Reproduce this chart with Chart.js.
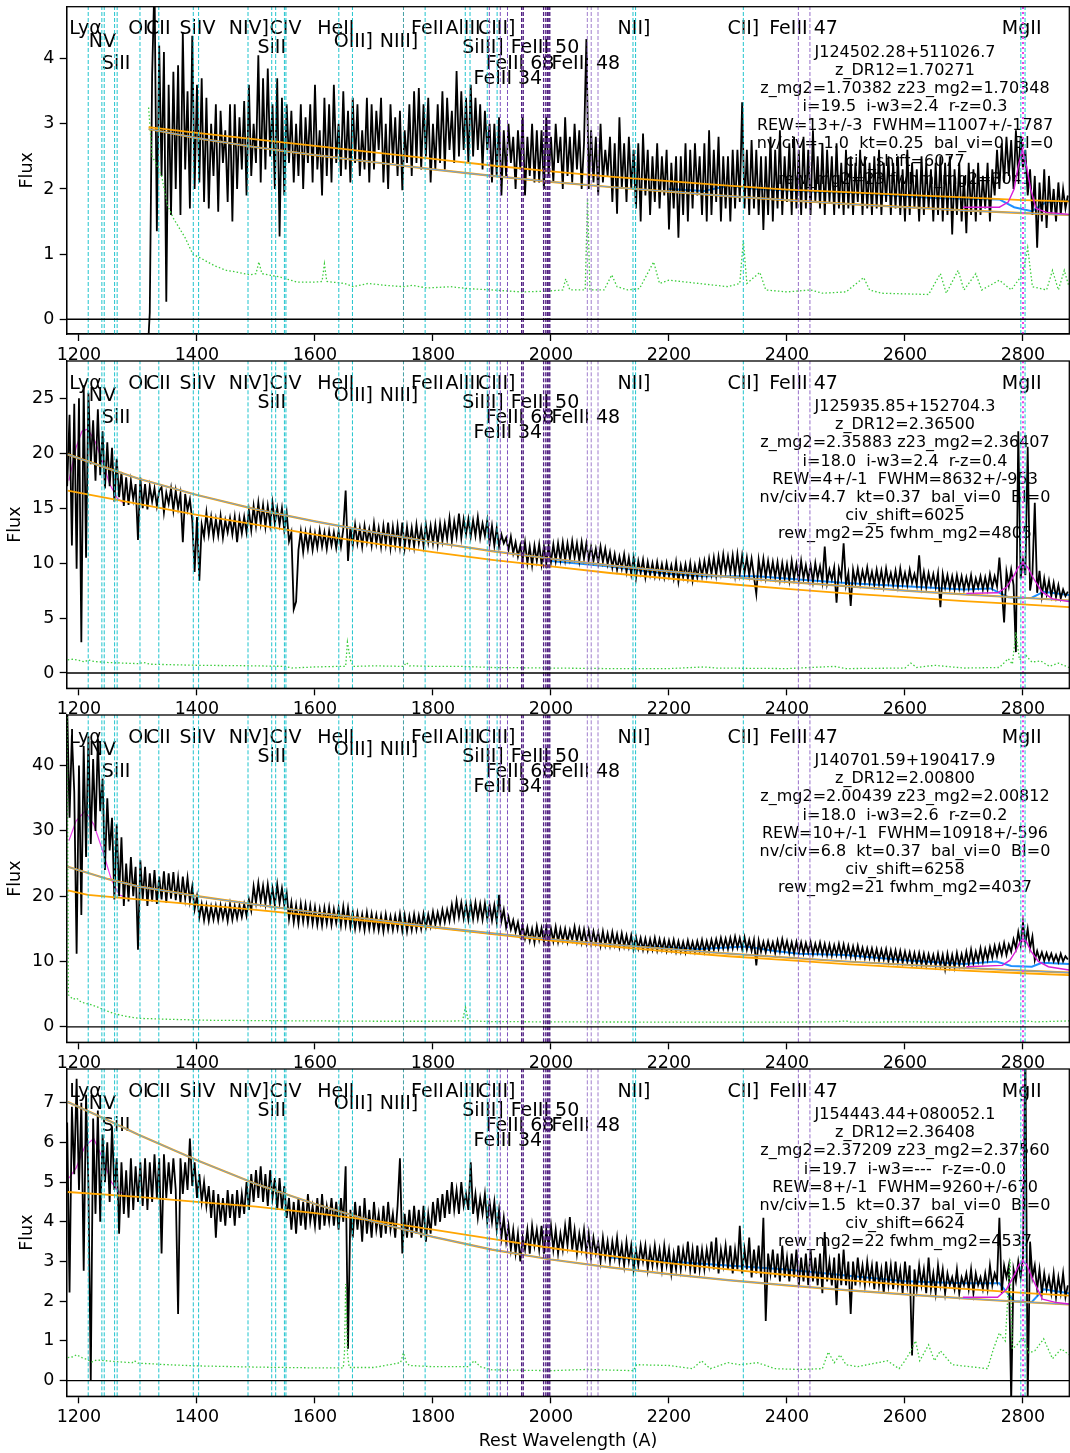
<!DOCTYPE html>
<html>
<head>
<meta charset="utf-8">
<script src="https://cdn.jsdelivr.net/npm/chart.js@4/dist/chart.umd.min.js"></script>
<style>
  html, body { margin: 0; padding: 0; background: #fff; }
  #wrap { position: relative; width: 1070px; height: 1453px; overflow: hidden; background: #fff; }
  #wrap canvas { position: absolute; left: 0; }
</style>
</head>
<body>
<div id="wrap"></div>
<script>
// rest-frame wavelength grid (A) shared by the four spectra
const wave = [
  1180,1184,1188,1192,1196,1200,1204,1208,1212,1216,
  1220,1224,1228,1232,1236,1240,1244,1248,1252,1256,
  1260,1264,1268,1272,1276,1280,1284,1288,1292,1296,
  1300,1304,1308,1312,1316,1320,1324,1328,1332,1336,
  1340,1344,1348,1352,1356,1360,1364,1368,1372,1376,
  1380,1384,1388,1392,1396,1400,1404,1408,1412,1416,
  1420,1424,1428,1432,1436,1440,1444,1448,1452,1456,
  1460,1464,1468,1472,1476,1480,1484,1488,1492,1496,
  1500,1504,1508,1512,1516,1520,1524,1528,1532,1536,
  1540,1544,1548,1552,1556,1560,1564,1568,1572,1576,
  1580,1584,1588,1592,1596,1600,1604,1608,1612,1616,
  1620,1624,1628,1632,1636,1640,1644,1648,1652,1656,
  1660,1664,1668,1672,1676,1680,1684,1688,1692,1696,
  1700,1704,1708,1712,1716,1720,1724,1728,1732,1736,
  1740,1744,1748,1752,1756,1760,1764,1768,1772,1776,
  1780,1784,1788,1792,1796,1800,1804,1808,1812,1816,
  1820,1824,1828,1832,1836,1840,1844,1848,1852,1856,
  1860,1864,1868,1872,1876,1880,1884,1888,1892,1896,
  1900,1904,1908,1912,1916,1920,1924,1928,1932,1936,
  1940,1944,1948,1952,1956,1960,1964,1968,1972,1976,
  1980,1984,1988,1992,1996,2000,2004,2008,2012,2016,
  2020,2024,2028,2032,2036,2040,2044,2048,2052,2056,
  2060,2064,2068,2072,2076,2080,2084,2088,2092,2096,
  2100,2104,2108,2112,2116,2120,2124,2128,2132,2136,
  2140,2144,2148,2152,2156,2160,2164,2168,2172,2176,
  2180,2184,2188,2192,2196,2200,2204,2208,2212,2216,
  2220,2224,2228,2232,2236,2240,2244,2248,2252,2256,
  2260,2264,2268,2272,2276,2280,2284,2288,2292,2296,
  2300,2304,2308,2312,2316,2320,2324,2328,2332,2336,
  2340,2344,2348,2352,2356,2360,2364,2368,2372,2376,
  2380,2384,2388,2392,2396,2400,2404,2408,2412,2416,
  2420,2424,2428,2432,2436,2440,2444,2448,2452,2456,
  2460,2464,2468,2472,2476,2480,2484,2488,2492,2496,
  2500,2504,2508,2512,2516,2520,2524,2528,2532,2536,
  2540,2544,2548,2552,2556,2560,2564,2568,2572,2576,
  2580,2584,2588,2592,2596,2600,2604,2608,2612,2616,
  2620,2624,2628,2632,2636,2640,2644,2648,2652,2656,
  2660,2664,2668,2672,2676,2680,2684,2688,2692,2696,
  2700,2704,2708,2712,2716,2720,2724,2728,2732,2736,
  2740,2744,2748,2752,2756,2760,2764,2768,2772,2776,
  2780,2784,2788,2792,2796,2800,2804,2808,2812,2816,
  2820,2824,2828,2832,2836,2840,2844,2848,2852,2856,
  2860,2864,2868,2872,2876
];

const xTicks = [1200, 1400, 1600, 1800, 2000, 2200, 2400, 2600, 2800];

// ---- J124502.28+511026.7 ----
const p1Flux = [
  null,null,null,null,null,null,null,null,null,null,
  null,null,null,null,null,null,null,null,null,null,
  null,null,null,null,null,null,null,null,null,null,
  null,null,null,null,-0.6,0.1,3.75,5.2,1.35,4.2,
  2.2,4.1,0.27,3.6,1.6,3.8,2.0,3.9,1.6,4.4,
  2.3,3.5,1.7,4.35,2.0,3.6,2.1,3.7,1.8,3.4,
  1.7,3.0,2.2,3.3,1.65,3.2,2.4,2.9,1.8,3.3,
  1.5,3.3,2.0,3.1,2.3,3.35,1.9,3.6,2.2,3.0,
  2.4,4.05,2.1,3.7,2.3,3.85,2.5,3.3,2.0,3.7,
  1.27,3.4,1.9,3.3,2.4,3.2,2.1,3.0,2.2,3.3,
  2.0,3.1,2.4,3.3,2.1,3.6,2.3,2.9,1.9,3.4,
  2.2,3.3,2.1,3.6,2.4,3.0,2.2,3.5,2.3,3.2,
  2.1,3.4,2.4,3.3,2.2,2.9,2.3,3.4,2.1,3.3,
  2.3,3.2,2.6,3.4,2.1,3.0,2.0,3.3,2.4,3.1,
  2.2,3.2,1.98,2.9,2.4,3.3,2.2,3.5,2.4,3.55,
  2.3,3.3,2.5,3.4,2.1,3.0,2.3,3.3,2.4,3.5,
  2.3,3.4,2.6,3.2,2.4,3.81,2.5,3.5,2.6,3.4,
  2.4,3.6,2.5,3.4,2.6,3.3,2.3,3.2,2.6,3.0,
  2.1,3.0,2.2,3.1,1.9,2.9,2.2,3.0,2.4,2.8,
  2.0,2.9,2.3,3.1,1.9,2.8,2.2,3.0,2.1,2.9,
  2.1,2.9,2.0,3.1,2.2,2.8,2.1,3.0,2.4,2.8,
  2.0,3.1,2.2,2.8,2.1,3.0,2.3,2.9,2.0,2.7,
  4.3,2.0,2.9,2.1,2.8,1.9,3.0,2.1,2.6,2.2,
  2.8,1.8,2.7,1.62,3.1,2.0,2.7,1.8,2.8,2.0,
  2.6,1.7,2.7,1.5,2.85,1.9,2.6,1.6,2.5,1.8,
  2.7,1.7,2.5,1.9,2.6,1.38,2.4,1.7,2.5,1.25,
  2.5,1.6,2.7,1.5,2.6,1.7,2.7,1.9,2.5,1.6,
  2.7,1.5,2.9,1.6,2.6,1.8,2.8,1.5,2.5,1.7,
  2.5,1.5,2.6,1.7,2.6,1.8,3.33,1.7,2.6,1.6,
  2.75,1.7,2.6,1.6,2.5,1.37,2.5,1.6,2.8,1.5,
  2.6,1.7,2.9,1.6,2.5,1.8,2.7,1.6,2.8,1.7,
  2.6,1.6,2.8,1.7,2.6,1.6,2.9,1.8,2.5,1.7,
  2.7,1.6,2.6,1.8,2.5,1.6,2.7,1.7,2.4,1.6,
  2.6,1.7,2.5,1.6,2.4,1.8,2.6,1.6,2.5,1.7,
  2.4,1.6,2.5,1.7,2.6,1.6,2.4,1.8,2.5,1.6,
  2.4,1.7,2.5,1.6,2.3,1.5,2.6,1.6,2.4,1.7,
  2.3,1.5,2.5,1.6,2.4,1.7,2.3,1.5,2.4,1.6,
  2.5,1.5,2.4,1.6,2.5,1.3,2.3,1.6,2.4,1.5,
  2.2,1.32,2.4,1.6,2.3,1.5,2.4,1.6,2.2,1.7,
  2.4,1.5,2.3,1.9,2.6,2.0,2.7,2.1,2.8,2.2,
  2.75,2.0,2.9,2.2,2.8,2.3,2.6,1.9,2.3,1.6,
  2.2,1.1,2.1,1.5,2.3,1.4,2.2,1.6,2.0,1.5,
  2.1,1.6,2.0,1.7,1.9
];
const p1Err = [[1318,3.25],[1324,2.5],[1330,2.4],[1340,2.2],[1350,1.75],[1360,1.55],[1370,1.4],[1380,1.25],[1393,1.0],[1410,0.92],[1430,0.82],[1450,0.75],[1470,0.72],[1490,0.68],[1500,0.7],[1505,0.88],[1510,0.7],[1540,0.65],[1570,0.57],[1600,0.57],[1612,0.58],[1616,0.85],[1620,0.58],[1650,0.55],[1665,0.5],[1690,0.55],[1720,0.52],[1750,0.5],[1765,0.52],[1790,0.48],[1830,0.5],[1860,0.47],[1900,0.45],[1950,0.42],[1990,0.43],[2020,0.45],[2025,0.62],[2032,0.45],[2058,0.45],[2062,1.86],[2066,0.45],[2090,0.45],[2103,0.68],[2112,0.5],[2130,0.45],[2150,0.47],[2174,0.88],[2184,0.55],[2200,0.6],[2250,0.55],[2300,0.5],[2320,0.55],[2326,1.21],[2332,0.55],[2354,0.72],[2364,0.45],[2400,0.42],[2440,0.45],[2460,0.4],[2500,0.42],[2530,0.64],[2540,0.45],[2560,0.4],[2640,0.38],[2660,0.7],[2670,0.4],[2690,0.75],[2700,0.45],[2720,0.7],[2730,0.45],[2760,0.6],[2780,0.45],[2800,0.7],[2808,1.1],[2816,0.5],[2840,0.45],[2850,0.75],[2860,0.45],[2870,0.75],[2878,0.5]];
const p1Steep = [[1318,2.92],[1400,2.78],[1500,2.64],[1600,2.52],[1700,2.41],[1800,2.30],[1900,2.20],[2000,2.11],[2100,2.03],[2200,1.96],[2300,1.89],[2400,1.83],[2500,1.77],[2600,1.72],[2700,1.67],[2800,1.63],[2878,1.60]];
const p1Flat = [[1318,2.95],[1400,2.86],[1500,2.76],[1600,2.66],[1700,2.56],[1800,2.46],[1900,2.36],[2000,2.27],[2100,2.19],[2200,2.12],[2300,2.05],[2400,1.99],[2500,1.95],[2600,1.91],[2700,1.87],[2800,1.83],[2878,1.81]];
const p1Model = [[2200,2.0],[2260,1.97],[2300,2.05],[2350,2.0],[2420,1.97],[2530,1.93],[2650,1.86],[2760,1.84],[2785,1.72],[2815,1.66],[2840,1.8],[2878,1.82]];
const p1Mg = [[2698,1.72],[2760,1.72],[2775,1.8],[2785,2.0],[2792,2.35],[2799,2.61],[2806,2.35],[2813,2.0],[2822,1.7],[2840,1.64],[2878,1.61]];
const p1Info = ['J124502.28+511026.7', 'z_DR12=1.70271', 'z_mg2=1.70382 z23_mg2=1.70348', 'i=19.5  i-w3=2.4  r-z=0.3', 'REW=13+/-3  FWHM=11007+/-1787', 'nv/civ=-1.0  kt=0.25  bal_vi=0  BI=0', 'civ_shift=6077', 'rew_mg2=23 fwhm_mg2=3041'];

// ---- J125935.85+152704.3 ----
const p2Flux = [
  17,23.5,11.6,24.5,9.5,25,2.8,26.2,10.5,25.5,
  19,23,17.5,24,18,22,16.8,21,17,20.5,
  15.6,19.5,16,18.3,15.2,17.8,15.3,17.5,15.8,17.2,
  12.1,17.8,15.0,17.2,14.9,17.0,15.6,16.8,15.2,16.6,
  16.9,14.6,16.4,15.4,16.8,14.8,16.6,15.0,16.3,11.9,
  16.3,14.8,15.8,13.9,9.2,14.2,8.4,13.5,12.4,14.6,
  12.6,14.2,12.4,14.0,12.5,14.3,12.3,13.9,12.8,14.1,
  12.6,14.2,11.9,14.1,12.7,14.2,12.8,14.8,13.0,15.2,
  13.4,15.5,13.6,15.3,13.3,15.2,13.5,15.5,13.6,15.0,
  13.5,15.0,13.0,14.6,12.0,12.8,5.8,6.5,11.2,12.9,
  11.0,12.8,11.3,12.9,11.2,12.7,11.4,13.0,11.5,12.8,
  11.3,12.9,11.6,12.8,11.4,12.9,11.5,13.1,16.6,10.2,
  13.3,11.6,13.5,11.8,13.2,11.5,13.4,11.9,13.1,11.6,
  13.6,11.8,13.2,11.5,13.4,11.7,13.7,11.4,13.3,11.6,
  13.4,11.5,13.7,11.4,13.3,11.6,13.2,11.5,13.5,11.8,
  13.2,11.6,13.5,11.9,13.4,11.8,13.5,11.7,13.6,12.0,
  13.6,12.2,14.1,12.0,13.8,12.4,14.5,12.3,14.0,12.6,
  14.0,12.4,13.9,12.5,14.2,12.3,13.6,12.5,13.9,11.8,
  13.4,11.6,13.2,11.5,12.6,11.8,12.3,11.2,12.4,10.9,
  11.9,10.6,11.6,10.3,11.9,10.0,11.5,9.8,11.6,10.2,
  11.7,9.9,11.5,10.0,11.6,10.1,11.7,10.2,11.8,10.3,
  11.9,10.3,11.8,10.4,12.0,10.5,11.8,10.2,11.9,10.4,
  11.8,10.3,11.5,10.2,11.3,10.0,11.5,10.1,11.3,9.9,
  11.0,9.6,10.8,9.4,10.6,9.5,10.8,9.2,10.5,9.0,
  10.5,8.6,10.2,9.1,10.3,8.7,10.1,8.9,10.0,8.8,
  10.1,8.8,9.9,8.7,10.0,8.8,9.8,8.6,10.1,8.3,
  9.8,8.7,9.9,8.6,10.0,8.4,9.8,8.7,10.1,8.8,
  10.2,8.9,10.4,9.0,10.5,8.9,10.6,9.1,10.8,9.2,
  10.6,9.1,10.7,8.9,10.8,9.0,10.7,9.1,10.5,8.9,
  10.4,8.8,7.2,10.3,8.8,10.4,8.7,10.2,8.8,10.1,
  8.7,10.1,8.5,10.0,8.6,9.9,8.4,10.2,8.6,9.9,
  8.4,10.2,8.6,9.8,8.5,9.8,8.3,10.0,8.6,9.7,
  8.3,11.5,8.2,9.4,8.5,9.6,6.4,9.5,8.6,11.8,
  8.0,9.1,6.1,9.4,8.2,9.5,8.1,9.3,8.3,9.6,
  8.2,9.2,8.0,9.4,8.1,9.3,7.9,9.5,8.2,9.1,
  8.0,9.3,7.9,9.5,8.1,9.1,8.0,9.4,8.2,9.0,
  8.0,10.7,7.9,9.2,7.8,9.1,8.0,9.0,7.8,9.1,
  6.0,9.0,7.8,8.9,7.7,8.8,7.6,8.9,7.7,8.8,
  7.6,8.7,7.7,8.9,7.5,8.6,7.8,8.8,7.6,8.7,
  7.6,9.0,7.8,8.8,7.9,10.5,7.7,4.6,9.2,7.9,
  9.4,8.0,1.9,22.0,8.6,10.3,8.9,20.6,7.5,9.0,
  15.5,7.3,9.3,7.0,8.6,7.2,8.4,7.0,8.2,6.9,
  8.0,6.8,7.6,7.0,7.4
];
const p2Err = [[1181,1.2],[1190,1.25],[1200,1.15],[1210,1.0],[1215,1.2],[1225,1.05],[1250,0.95],[1300,0.85],[1310,0.95],[1320,0.8],[1400,0.7],[1500,0.65],[1550,0.6],[1560,0.45],[1600,0.55],[1640,0.6],[1652,0.6],[1655,2.8],[1660,1.2],[1665,0.6],[1700,0.65],[1750,0.6],[1755,0.95],[1760,0.65],[1800,0.6],[1850,0.6],[1900,0.5],[2000,0.45],[2100,0.4],[2200,0.4],[2260,0.55],[2280,0.45],[2400,0.4],[2480,0.6],[2500,0.4],[2600,0.45],[2610,0.9],[2620,0.5],[2650,0.7],[2700,0.45],[2760,0.5],[2775,1.3],[2782,0.8],[2788,3.7],[2794,1.2],[2805,1.6],[2815,1.0],[2830,1.1],[2845,0.6],[2860,0.9],[2878,0.5]];
const p2Steep = [[1181,19.9],[1250,18.6],[1300,17.7],[1400,16.2],[1500,14.9],[1600,13.8],[1700,12.8],[1800,11.9],[1900,11.1],[2000,10.4],[2100,9.8],[2200,9.25],[2300,8.75],[2400,8.3],[2500,7.9],[2600,7.5],[2700,7.15],[2800,6.85],[2878,6.6]];
const p2Flat = [[1181,16.6],[1300,15.4],[1400,14.4],[1500,13.5],[1600,12.6],[1700,11.8],[1800,11.0],[1900,10.3],[2000,9.7],[2100,9.1],[2200,8.6],[2300,8.1],[2400,7.65],[2500,7.25],[2600,6.9],[2700,6.55],[2800,6.25],[2878,6.0]];
const p2Model = [[2000,10.2],[2100,9.7],[2200,9.0],[2260,8.8],[2350,8.8],[2420,8.5],[2500,8.2],[2600,7.9],[2700,7.6],[2745,7.7],[2775,6.9],[2795,6.8],[2815,6.85],[2835,7.4],[2878,7.1]];
const p2Mg = [[2704,7.25],[2757,7.3],[2772,7.8],[2784,8.8],[2792,9.6],[2800,10.0],[2808,9.6],[2818,8.6],[2832,7.4],[2850,6.75],[2878,6.5]];
const p2Lya = [[1183,17.5],[1195,20.5],[1205,22.0],[1215,22.2],[1228,21.0],[1240,19.2],[1252,17.2],[1265,15.9],[1275,15.5]];
const p2Info = ['J125935.85+152704.3', 'z_DR12=2.36500', 'z_mg2=2.35883 z23_mg2=2.36407', 'i=18.0  i-w3=2.4  r-z=0.4', 'REW=4+/-1  FWHM=8632+/-953', 'nv/civ=4.7  kt=0.37  bal_vi=0  BI=0', 'civ_shift=6025', 'rew_mg2=25 fwhm_mg2=4805'];

// ---- J140701.59+190417.9 ----
const p3Flux = [
  49,32,44.7,36,11.2,40,17.1,43,26,44.5,
  28,41,30,44,33,38,24,35,27,32,
  19.5,31,20,29,18.5,25,19.2,26,20.0,24.5,
  11.8,25.5,19.5,24.5,18.5,23.5,19.2,24.0,18.8,23.0,
  19.5,23.8,19.0,23.5,19.6,23.7,19.4,22.8,19.0,23.0,
  19.6,22.8,19.2,21.5,18.0,20.0,16.8,18.8,16.3,18.6,
  16.2,18.4,16.4,18.5,16.3,18.6,16.6,18.4,16.2,18.8,
  16.4,18.5,16.6,18.6,16.8,18.8,17.0,19.5,17.8,21.5,
  19.0,22.0,19.2,21.6,18.8,21.8,19.0,21.2,18.6,21.8,
  18.9,21.2,18.6,20.5,16.5,19.0,16.0,18.6,15.8,18.8,
  16.1,18.7,15.9,18.5,15.8,18.3,15.6,18.0,15.5,18.2,
  15.8,18.3,15.6,18.0,15.9,18.2,15.5,18.4,15.6,18.2,
  15.3,17.6,15.0,17.4,15.1,17.2,14.8,17.5,15.0,17.3,
  14.9,17.1,14.8,17.0,14.6,17.2,14.9,16.9,14.8,17.0,
  15.0,17.3,14.7,17.1,14.6,16.9,14.8,17.2,14.9,17.0,
  15.0,17.3,15.2,17.2,15.4,17.6,15.6,17.5,15.8,17.9,
  16.0,17.9,16.2,18.7,16.5,19.3,16.8,19.0,16.6,18.8,
  16.4,18.9,16.5,19.0,16.6,18.8,16.4,18.9,16.5,18.6,
  16.3,18.6,16.1,20.2,16.2,17.9,15.2,16.8,14.9,16.3,
  14.5,16.0,13.9,15.5,13.5,15.2,13.2,15.0,12.9,15.4,
  13.3,15.1,13.0,15.2,12.9,15.0,13.1,15.3,13.0,15.0,
  13.2,15.0,13.0,14.8,13.3,15.3,13.1,15.0,12.9,14.9,
  12.8,14.8,12.7,14.6,12.8,14.5,12.4,14.6,12.5,14.3,
  12.4,14.5,12.5,14.2,12.2,14.3,12.3,14.0,12.2,14.0,
  11.9,13.8,12.0,13.6,11.8,13.5,11.7,13.4,11.8,13.6,
  11.7,13.4,11.8,13.3,11.6,13.2,11.7,13.3,11.5,13.1,
  11.5,13.0,11.4,13.2,11.6,13.0,11.5,13.1,11.6,13.3,
  11.5,13.1,11.6,13.3,11.8,13.4,11.9,13.6,12.0,13.5,
  11.9,13.6,12.0,13.8,12.1,13.6,11.9,13.7,11.8,13.3,
  11.6,13.3,9.4,13.2,11.5,13.0,11.4,13.1,11.6,12.9,
  11.3,13.2,11.5,13.4,11.6,13.1,11.3,12.9,11.2,13.0,
  11.3,12.9,11.2,12.8,11.4,13.0,11.1,12.7,11.3,12.9,
  11.1,12.7,11.0,12.6,10.9,12.5,11.0,12.7,10.9,12.6,
  10.8,12.4,10.7,12.3,10.6,12.4,10.7,12.1,10.5,12.0,
  10.5,12.0,10.4,11.9,10.2,11.8,10.3,11.9,10.0,11.7,
  10.0,11.7,9.9,11.6,9.8,11.5,9.9,11.4,9.6,11.3,
  9.6,11.3,9.5,11.2,9.4,11.1,9.6,11.0,9.3,11.2,
  9.3,11.0,8.8,11.2,9.2,11.0,9.1,11.3,9.4,11.1,
  9.4,11.5,9.6,11.8,9.7,11.5,10.0,12.0,10.0,11.9,
  10.3,12.2,10.6,12.4,10.8,12.5,11.0,12.8,11.0,12.6,
  11.5,13.4,12.0,14.5,12.5,16.0,12.8,15.0,12.0,13.8,
  10.2,11.6,10.3,11.4,10.1,11.3,10.2,11.2,10.0,11.0,
  9.9,11.2,10.0,10.8,10.3
];
const p3Err = [[1180,48],[1182,4.9],[1190,4.2],[1196,4.4],[1202,3.9],[1210,3.6],[1220,3.4],[1232,3.0],[1245,2.5],[1260,2.0],[1280,1.6],[1300,1.3],[1350,1.15],[1420,1.0],[1500,0.95],[1600,0.9],[1700,0.85],[1800,0.85],[1850,0.9],[1855,3.0],[1860,0.9],[1900,0.8],[2000,0.75],[2200,0.72],[2400,0.72],[2480,0.75],[2500,0.9],[2510,0.7],[2600,0.75],[2700,0.7],[2770,0.8],[2790,0.75],[2800,0.95],[2820,0.75],[2878,0.9]];
const p3Steep = [[1181,24.5],[1250,22.6],[1300,21.5],[1400,20.0],[1500,18.7],[1600,17.5],[1700,16.4],[1800,15.3],[1900,14.3],[2000,13.4],[2100,12.6],[2200,11.9],[2300,11.2],[2400,10.6],[2500,10.0],[2600,9.5],[2700,9.0],[2800,8.6],[2878,8.3]];
const p3Flat = [[1181,20.9],[1215,20.2],[1300,19.5],[1400,18.7],[1500,17.9],[1600,17.0],[1700,16.1],[1800,15.2],[1900,14.2],[2000,13.2],[2100,12.3],[2200,11.5],[2300,10.8],[2400,10.2],[2500,9.6],[2600,9.1],[2700,8.6],[2800,8.2],[2878,7.9]];
const p3Model = [[2100,12.6],[2250,11.9],[2330,12.3],[2380,11.6],[2420,11.2],[2500,11.0],[2600,10.2],[2700,9.6],[2755,10.0],[2780,9.3],[2815,9.2],[2832,9.8],[2878,9.6]];
const p3Mg = [[2704,9.2],[2765,9.4],[2778,10.2],[2788,11.6],[2795,13.0],[2800,13.5],[2806,13.0],[2814,11.5],[2826,10.0],[2843,9.2],[2878,8.7]];
const p3Lya = [[1183,28.5],[1195,31.5],[1210,33],[1225,31],[1240,27],[1255,22.5],[1268,20.2],[1280,19.8]];
const p3Info = ['J140701.59+190417.9', 'z_DR12=2.00800', 'z_mg2=2.00439 z23_mg2=2.00812', 'i=18.0  i-w3=2.6  r-z=0.2', 'REW=10+/-1  FWHM=10918+/-596', 'nv/civ=6.8  kt=0.37  bal_vi=0  BI=0', 'civ_shift=6258', 'rew_mg2=21 fwhm_mg2=4037'];

// ---- J154443.44+080052.1 ----
const p4Flux = [
  6.5,2.22,6.9,5.2,7.6,4.8,7.0,2.77,7.2,4.9,
  0.0,6.6,4.2,6.8,4.0,6.2,5.0,6.0,4.5,6.4,
  4.8,5.6,3.7,5.5,4.2,5.3,4.1,5.6,4.3,5.4,
  4.5,5.5,4.4,5.6,4.3,5.5,4.5,5.7,4.6,5.6,
  3.2,5.7,4.6,5.5,4.7,5.6,4.8,1.68,5.6,4.7,
  5.5,4.8,6.1,4.9,5.5,4.6,5.2,4.5,5.0,4.4,
  4.9,4.1,4.8,3.6,4.7,4.0,4.6,3.9,4.8,4.1,
  4.7,3.9,4.8,4.1,4.7,4.2,5.0,4.3,5.2,4.5,
  5.3,4.6,5.4,4.5,5.2,4.4,5.3,4.6,5.1,4.3,
  5.1,4.3,4.9,4.1,4.6,3.8,4.5,3.7,4.6,3.9,
  4.5,3.8,4.7,4.0,4.4,3.9,4.6,3.8,4.7,3.9,
  4.4,4.0,4.6,3.9,4.5,3.8,4.6,4.0,5.4,0.8,
  4.3,3.6,4.5,3.8,4.4,3.5,4.6,3.7,4.3,3.6,
  4.5,3.8,4.2,3.6,4.4,3.7,4.5,3.8,4.2,3.6,
  4.4,5.6,3.2,4.2,3.6,4.3,3.6,4.4,3.7,4.3,
  3.6,4.4,3.5,4.2,3.7,4.5,3.9,4.6,4.0,4.7,
  4.1,4.8,4.2,5.0,4.3,4.8,4.2,5.0,4.4,4.7,
  4.3,5.5,4.2,4.7,4.1,4.6,4.2,4.7,4.0,4.5,
  4.0,4.5,3.8,4.3,3.6,4.1,3.5,3.9,3.3,3.8,
  3.2,3.7,3.0,3.6,3.3,3.8,3.2,3.9,3.4,3.8,
  3.3,3.9,3.2,3.8,3.4,3.9,3.3,3.8,3.2,3.7,
  3.3,3.9,3.4,4.12,3.3,3.8,3.2,3.7,3.3,3.8,
  3.2,3.7,3.1,3.6,3.2,3.5,3.0,3.6,3.1,3.5,
  3.0,3.5,3.1,3.6,3.0,3.4,2.9,3.5,3.0,3.4,
  2.8,3.3,2.9,3.4,3.0,3.4,2.8,3.3,2.9,3.4,
  2.9,3.3,2.8,3.4,2.9,3.3,2.7,3.2,2.8,3.4,
  2.8,3.3,2.9,3.5,2.8,3.3,2.7,3.4,2.8,3.3,
  2.8,3.3,2.9,3.5,2.8,3.6,2.7,3.3,2.9,3.4,
  2.8,3.4,2.7,3.3,2.8,3.9,2.7,3.3,2.8,3.6,
  2.6,3.3,2.7,3.4,2.6,4.1,1.5,3.2,2.7,3.3,
  2.6,3.2,2.5,3.4,2.6,3.1,2.5,3.2,2.6,3.3,
  2.4,3.1,2.5,3.2,2.4,3.3,2.5,3.1,2.4,3.2,
  2.2,3.74,2.5,3.0,2.4,3.1,1.9,3.2,2.4,3.3,
  2.4,3.0,1.68,3.0,2.4,3.1,2.5,2.9,2.4,3.0,
  2.5,2.9,2.3,3.0,2.4,2.8,2.2,3.0,2.4,2.9,
  2.3,3.0,2.4,2.8,2.2,3.0,2.4,2.9,0.63,2.8,
  2.3,2.9,2.4,2.8,2.2,3.1,2.3,2.7,2.2,2.9,
  2.4,2.8,2.2,2.7,2.4,2.6,2.3,2.8,2.2,2.6,
  2.4,2.7,2.3,2.8,2.2,2.7,2.4,2.6,2.3,2.7,
  2.3,2.9,2.4,2.7,2.5,4.1,2.2,2.9,2.6,2.9,
  -0.5,2.8,2.5,3.0,2.6,3.1,8.5,-0.5,3.5,2.6,
  2.9,2.3,2.8,2.2,2.7,2.3,2.6,2.2,2.7,2.1,
  2.6,2.2,2.7,2.1,2.4
];
const p4Err = [[1181,0.58],[1190,0.6],[1196,0.65],[1205,0.58],[1215,0.52],[1222,0.47],[1230,0.52],[1260,0.48],[1290,0.45],[1294,0.5],[1300,0.44],[1350,0.4],[1400,0.37],[1500,0.34],[1600,0.32],[1648,0.32],[1650,0.7],[1652,2.43],[1655,0.7],[1658,0.33],[1700,0.33],[1745,0.45],[1750,0.7],[1755,0.45],[1760,0.38],[1800,0.35],[1860,0.35],[1870,0.5],[1880,0.35],[1900,0.27],[2000,0.25],[2060,0.28],[2140,0.25],[2145,0.4],[2200,0.38],[2240,0.3],[2255,0.5],[2270,0.3],[2290,0.4],[2300,0.45],[2320,0.4],[2350,0.45],[2380,0.3],[2420,0.28],[2460,0.3],[2470,0.72],[2480,0.45],[2490,0.65],[2500,0.4],[2520,0.35],[2570,0.5],[2590,0.3],[2600,0.5],[2610,0.75],[2618,1.0],[2625,0.5],[2640,0.9],[2650,0.5],[2660,0.75],[2680,0.4],[2740,0.3],[2750,0.8],[2760,1.2],[2770,1.0],[2778,3.05],[2782,0.8],[2790,0.9],[2800,1.1],[2810,0.7],[2820,0.75],[2835,1.05],[2850,0.55],[2865,0.8],[2878,0.65]];
const p4Steep = [[1181,7.02],[1250,6.55],[1300,6.2],[1400,5.55],[1500,4.95],[1600,4.45],[1700,4.0],[1800,3.62],[1900,3.3],[2000,3.05],[2100,2.85],[2200,2.68],[2300,2.53],[2400,2.4],[2500,2.28],[2600,2.17],[2700,2.07],[2800,1.98],[2878,1.92]];
const p4Flat = [[1181,4.75],[1300,4.63],[1400,4.5],[1500,4.38],[1600,4.22],[1700,4.03],[1800,3.8],[1900,3.57],[2000,3.34],[2100,3.14],[2200,2.96],[2300,2.8],[2400,2.66],[2500,2.53],[2600,2.41],[2700,2.31],[2800,2.21],[2878,2.14]];
const p4Model = [[2100,3.1],[2300,2.9],[2400,2.8],[2500,2.65],[2600,2.5],[2700,2.45],[2760,2.45],[2785,2.0],[2815,1.98],[2835,2.3],[2878,2.2]];
const p4Mg = [[2698,2.1],[2757,2.1],[2772,2.3],[2785,2.65],[2794,2.93],[2800,3.0],[2806,2.93],[2815,2.6],[2833,2.05],[2855,1.97],[2878,1.93]];
const p4Lya = [[1183,5.1],[1195,5.35],[1210,5.9],[1225,6.1],[1240,5.6],[1255,5.0],[1268,4.75],[1280,4.7]];
const p4Info = ['J154443.44+080052.1', 'z_DR12=2.36408', 'z_mg2=2.37209 z23_mg2=2.37560', 'i=19.7  i-w3=---  r-z=-0.0', 'REW=8+/-1  FWHM=9260+/-670', 'nv/civ=1.5  kt=0.37  bal_vi=0  BI=0', 'civ_shift=6624', 'rew_mg2=22 fwhm_mg2=4537'];

// emission / absorption line markers
const cyanLines = [1215.67, 1238.8, 1242.8, 1260.4, 1264.7, 1303.4, 1335.3, 1393.76, 1402.77, 1486.5, 1526.7, 1533.4, 1548.2, 1550.8, 1640.4, 1663.5, 1786.7, 1854.7, 1862.8, 1892.0, 1908.7, 2139.0, 2143.4, 2326.0, 2796.35, 2803.53];
const tealLines = [1750.0];
const feUV34 = [1895.5, 1914.1, 1926.3];
const feUV68 = [1950.3, 1953.0];
const feUV50 = [1987.5, 1991.2, 1994.0, 1996.4, 1998.0];
const feUV48 = [2061.6, 2068.2, 2079.7];
const feUV47 = [2419.3, 2438.9];
const mgCentre = [2800, 2800, 2800, 2800];

const labelText = ['Lyα', 'NV', 'SiII', 'OI', 'CII', 'SiIV', 'NIV]', 'CIV', 'SiII', 'HeII', 'OIII]', 'NIII]', 'FeII', 'AlIII', 'CIII]', 'SiIII]', 'FeIII 50', 'FeIII 68', 'FeIII 48', 'FeIII 34', 'NII]', 'CII]', 'FeIII 47', 'MgII'];
const labelWave = [1211, 1239.8, 1263, 1300.8, 1334.4, 1400.8, 1488, 1550, 1526.8, 1635.3, 1665, 1742.4, 1790.7, 1851, 1908, 1884.7, 1989.8, 1947.5, 2059, 1927, 2140.7, 2326, 2428, 2797.8];
const labelRow = [0, 1, 3, 0, 0, 0, 0, 0, 2, 0, 1, 1, 0, 0, 0, 2, 2, 3, 3, 4, 0, 0, 0, 0];
const rowBase = [27.6, 40, 46.6, 62, 77.3];   // px below the top of each frame
const infoWave = 2600;

const FONT = '"DejaVu Sans", "Liberation Sans", sans-serif';
Chart.defaults.font.family = FONT;
Chart.defaults.color = '#000';

const CYAN = 'rgb(32,196,206)';
const plotLeft = 66.7, plotRight = 1069.3, plotH = 327.3;

const panels = [
  { top: 6.7, canvasTop: 0, h: 374, yMin: -0.226, yMax: 4.797, yTicks: [0, 1, 2, 3, 4], fluxPad: 16.5,
    flux: p1Flux, err: p1Err, steep: p1Steep, flat: p1Flat, model: p1Model, mg: p1Mg, lya: null, info: p1Info },
  { top: 361, canvasTop: 354, h: 374, yMin: -1.394, yMax: 28.4, yTicks: [0, 5, 10, 15, 20, 25], fluxPad: 5,
    flux: p2Flux, err: p2Err, steep: p2Steep, flat: p2Flat, model: p2Model, mg: p2Mg, lya: p2Lya, info: p2Info },
  { top: 715, canvasTop: 708, h: 374, yMin: -2.375, yMax: 47.74, yTicks: [0, 10, 20, 30, 40], fluxPad: 5,
    flux: p3Flux, err: p3Err, steep: p3Steep, flat: p3Flat, model: p3Model, mg: p3Mg, lya: p3Lya, info: p3Info },
  { top: 1069, canvasTop: 1062, h: 391, yMin: -0.396, yMax: 7.849, yTicks: [0, 1, 2, 3, 4, 5, 6, 7], fluxPad: 16.5,
    flux: p4Flux, err: p4Err, steep: p4Steep, flat: p4Flat, model: p4Model, mg: p4Mg, lya: p4Lya, info: p4Info, last: true }
];

const pts = arr => arr.map(([x, y]) => ({ x, y }));

// line labels + the object summary sit under the spectrum, markers on top
const decor = {
  id: 'decor',
  beforeDatasetsDraw(chart, _args, o) {
    const { ctx, chartArea: a, scales: { x } } = chart;
    ctx.save();
    ctx.fillStyle = '#000';
    ctx.textAlign = 'center';
    ctx.textBaseline = 'alphabetic';
    ctx.font = '19px ' + FONT;
    labelText.forEach((t, i) => {
      ctx.fillText(t, x.getPixelForValue(labelWave[i]), a.top + rowBase[labelRow[i]]);
    });
    ctx.font = '16px ' + FONT;
    o.info.forEach((t, i) => {
      ctx.fillText(t, x.getPixelForValue(infoWave), a.top + 50 + i * 18.2);
    });
    ctx.restore();
  },
  afterDatasetsDraw(chart, _args, o) {
    const { ctx, chartArea: a, scales: { x, y } } = chart;
    ctx.save();
    ctx.beginPath();
    ctx.rect(a.left, a.top, a.right - a.left, a.bottom - a.top);
    ctx.clip();
    const vline = (w, color, dash, lw) => {
      const px = x.getPixelForValue(w);
      ctx.strokeStyle = color;
      ctx.lineWidth = lw;
      ctx.setLineDash(dash);
      ctx.beginPath();
      ctx.moveTo(px, a.bottom);
      ctx.lineTo(px, a.top);
      ctx.stroke();
    };
    cyanLines.forEach(w => vline(w, CYAN, [4, 2], 1));
    tealLines.forEach(w => vline(w, 'rgb(70,160,165)', [4, 2], 1));
    feUV34.forEach(w => vline(w, 'rgb(126,80,190)', [4, 2], 1));
    feUV68.forEach(w => vline(w, 'rgb(80,30,130)', [4, 2], 1.3));
    feUV50.forEach(w => vline(w, 'rgb(80,30,130)', [4, 2], 1.3));
    feUV48.forEach(w => vline(w, 'rgb(160,125,205)', [4, 2], 1));
    feUV47.forEach(w => vline(w, 'rgb(150,110,200)', [4, 2], 1));
    vline(o.mg, 'rgb(235,60,235)', [2, 3], 2);
    ctx.setLineDash([]);
    const y0 = y.getPixelForValue(0);
    ctx.strokeStyle = '#000';
    ctx.lineWidth = 1.3;
    ctx.beginPath();
    ctx.moveTo(a.left, y0);
    ctx.lineTo(a.right, y0);
    ctx.stroke();
    ctx.restore();

    ctx.save();
    ctx.strokeStyle = '#000';
    ctx.lineWidth = 1.3;
    ctx.strokeRect(a.left, a.top, a.right - a.left, a.bottom - a.top);
    ctx.restore();
  }
};

function lineSet(data, color, width, order, extra) {
  return Object.assign({
    data, borderColor: color, borderWidth: width, pointRadius: 0,
    tension: 0, fill: false, order
  }, extra || {});
}

const wrap = document.getElementById('wrap');

panels.forEach((p, idx) => {
  const canvas = document.createElement('canvas');
  canvas.width = 1070;
  canvas.height = p.h;
  canvas.style.top = p.canvasTop + 'px';
  canvas.style.width = '1070px';
  canvas.style.height = p.h + 'px';
  wrap.appendChild(canvas);

  const padTop = p.top - p.canvasTop;
  const xAxisH = p.h - (padTop + plotH);

  // higher order = drawn earlier (underneath)
  const datasets = [
    lineSet(pts(p.model), 'rgb(30,144,255)', 2, 11),
    lineSet(p.flux, '#000', 1.8, 9),
    lineSet(pts(p.err), 'rgb(60,205,60)', 1.3, 8, { borderDash: [1.5, 2.2] }),
    lineSet(pts(p.flat), 'orange', 1.8, 7),
    lineSet(pts(p.steep), 'orange', 2.2, 6),
    lineSet(pts(p.steep), 'rgb(120,160,205)', 1.1, 5),
    lineSet(pts(p.mg), 'rgb(215,30,215)', 1.4, 3)
  ];
  if (p.lya) datasets.push(lineSet(pts(p.lya), 'rgb(235,60,235)', 1.2, 10));

  const tickFont = { size: 17.5 };
  new Chart(canvas, {
    type: 'line',
    data: { labels: wave, datasets },
    options: {
      responsive: false,
      animation: false,
      devicePixelRatio: 1,
      events: [],
      layout: { autoPadding: false, padding: { top: padTop, left: 0, right: 1070 - plotRight, bottom: 0 } },
      plugins: {
        legend: { display: false },
        tooltip: { enabled: false },
        decor: { info: p.info, mg: mgCentre[idx] }
      },
      scales: {
        x: {
          type: 'linear',
          min: 1179.2,
          max: 2878.5,
          afterBuildTicks: s => { s.ticks = xTicks.map(v => ({ value: v })); },
          afterFit: s => { s.height = xAxisH; s.paddingLeft = 0; s.paddingRight = 0; },
          grid: { drawOnChartArea: false, drawTicks: true, tickLength: 7, tickColor: '#000', tickWidth: 1.3 },
          border: { display: true, color: '#000', width: 1.3 },
          ticks: { color: '#000', font: tickFont, padding: 4, maxRotation: 0, minRotation: 0, autoSkip: false, callback: v => String(v) },
          title: p.last
            ? { display: true, text: 'Rest Wavelength (A)', color: '#000', font: { size: 17.5 }, padding: { top: 0, bottom: 0.7 } }
            : { display: false }
        },
        y: {
          type: 'linear',
          min: p.yMin,
          max: p.yMax,
          afterBuildTicks: s => { s.ticks = p.yTicks.map(v => ({ value: v })); },
          afterFit: s => { s.width = plotLeft; s.paddingTop = 0; s.paddingBottom = 0; },
          grid: { drawOnChartArea: false, drawTicks: true, tickLength: 7, tickColor: '#000', tickWidth: 1.3 },
          border: { display: true, color: '#000', width: 1.3 },
          ticks: { color: '#000', font: tickFont, padding: 5.4, autoSkip: false, callback: v => String(v) },
          title: { display: true, text: 'Flux', color: '#000', font: { size: 17.5 }, padding: { top: p.fluxPad, bottom: 0 } }
        }
      }
    },
    plugins: [decor]
  });
});
</script>
</body>
</html>
